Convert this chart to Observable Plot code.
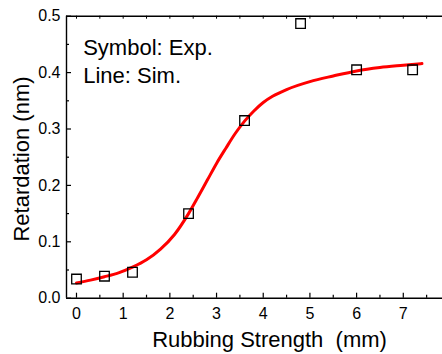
<!DOCTYPE html>
<html>
<head>
<meta charset="utf-8">
<script src="https://cdn.jsdelivr.net/npm/d3@7"></script>
<script src="https://cdn.jsdelivr.net/npm/@observablehq/plot@0.6"></script>
<style>
  html, body { margin: 0; padding: 0; background: #fff; }
  #chart svg { display: block; }
</style>
</head>
<body>
<div id="chart"></div>
<script>
// Experimental points (symbols)
const expX = [0, 0.6, 1.2, 2.4, 3.6, 4.8, 6.0, 7.2];
const expY = [0.034, 0.039, 0.046, 0.150, 0.315, 0.487, 0.405, 0.405];

// Simulation curve
const simX = [0, 0.3, 0.6, 0.9, 1.2, 1.5, 1.8, 2.1, 2.4, 2.6, 2.8, 3.0, 3.2, 3.4, 3.6, 3.8, 4.0, 4.2, 4.5, 5.0, 5.5, 6.0, 6.5, 7.0, 7.4];
const simY = [0.027, 0.032, 0.038, 0.045, 0.055, 0.068, 0.087, 0.113, 0.150, 0.179, 0.209, 0.239, 0.266, 0.292, 0.314, 0.332, 0.347, 0.358, 0.370, 0.384, 0.394, 0.403, 0.409, 0.413, 0.416];

// Tick labels
const xTicks = [0, 1, 2, 3, 4, 5, 6, 7];
const xMinor = [0.5, 1.5, 2.5, 3.5, 4.5, 5.5, 6.5, 7.5];
const xTop = [0, 0.5, 1, 1.5, 2, 2.5, 3, 3.5, 4, 4.5, 5, 5.5, 6, 6.5, 7, 7.5];
const yTicks = [0, 0.1, 0.2, 0.3, 0.4, 0.5];
const yMinor = [0.05, 0.15, 0.25, 0.35, 0.45];

const xLabel = "Rubbing Strength\u00a0\u00a0(mm)";
const yLabel = "Retardation (nm)";
const note = "Symbol: Exp.\nLine: Sim.";

const expData = expX.map((x, i) => ({x, y: expY[i]}));
const simData = simX.map((x, i) => ({x, y: simY[i]}));

const W = 442, H = 354;
const mL = 66, mT = 15.7, mB = 56.3, mR = 0;
const innerH = H - mT - mB;
const innerW = W - mL - mR;
const xDomain = [-0.214, 7.84];
const font = "Arial, 'Liberation Sans', sans-serif";

const plot = Plot.plot({
  width: W,
  height: H,
  marginLeft: mL,
  marginTop: mT,
  marginBottom: mB,
  marginRight: mR,
  style: {fontFamily: font, color: "#000", background: "#fff", overflow: "visible"},
  x: {domain: xDomain, axis: null},
  y: {domain: [0, 0.5], axis: null},
  marks: [
    // tick labels
    Plot.axisX(xTicks, {tickSize: 0, tickPadding: 9, fontSize: 16, label: null, tickFormat: d => String(d)}),
    Plot.axisY(yTicks, {tickSize: 0, tickPadding: 6, fontSize: 16, label: null, tickFormat: d3.format(".1f")}),
    // inward ticks
    Plot.tickX(xTicks, {x: d => d, insetTop: innerH - 5, stroke: "#000", strokeWidth: 1.2}),
    Plot.tickX(xMinor, {x: d => d, insetTop: innerH - 3, stroke: "#000", strokeWidth: 1.2}),
    Plot.tickX(xTop, {x: d => d, insetBottom: innerH - 3, stroke: "#000", strokeWidth: 1}),
    Plot.tickY(yTicks, {y: d => d, insetRight: innerW - 5, stroke: "#000", strokeWidth: 1.2}),
    Plot.tickY(yMinor, {y: d => d, insetRight: innerW - 3, stroke: "#000", strokeWidth: 1.2}),
    // axis lines
    Plot.ruleY([0], {stroke: "#000", strokeWidth: 1.4}),
    Plot.ruleY([0.5], {stroke: "#000", strokeWidth: 1.4}),
    Plot.ruleX([xDomain[0]], {stroke: "#000", strokeWidth: 1.4}),
    // simulation line
    Plot.line(simData, {x: "x", y: "y", stroke: "#ff0000", strokeWidth: 3, curve: "monotone-x"}),
    // experimental symbols
    Plot.dot(expData, {x: "x", y: "y", symbol: "square", r: 5.4, stroke: "#000", strokeWidth: 1.3, fill: "none"}),
    // annotation
    Plot.text([note], {frameAnchor: "top-left", dx: 16.7, dy: 19.3, textAnchor: "start", lineAnchor: "top", lineHeight: 1.25, fontSize: 22, fill: "#000"}),
    // axis titles
    Plot.text([xLabel], {frameAnchor: "bottom", dx: 15, dy: 33.3, textAnchor: "middle", lineAnchor: "top", fontSize: 22, fill: "#000"}),
    Plot.text([yLabel], {frameAnchor: "left", dx: -53.3, dy: 1.8, rotate: -90, textAnchor: "middle", lineAnchor: "top", fontSize: 22, fill: "#000"})
  ]
});

document.getElementById("chart").appendChild(plot);
</script>
</body>
</html>
